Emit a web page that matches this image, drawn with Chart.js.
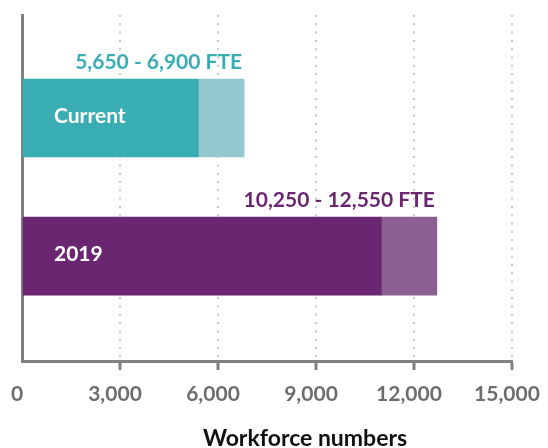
<!DOCTYPE html>
<html>
<head>
<meta charset="utf-8">
<script src="https://cdn.jsdelivr.net/npm/chart.js@4"></script>
<style>
  body { margin: 0; background: #fff; }
  #wrap { position: relative; width: 548px; height: 448px; }
  #xTitle {
    position: absolute; left: 0; width: 610px; top: 423px;
    text-align: center; font-family: Lato, sans-serif; font-weight: 700;
    font-size: 23px; color: #111;
  }
</style>
</head>
<body>
<div id="wrap">
  <canvas id="grafico"></canvas>
  <div id="xTitle">Workforce numbers</div>
</div>
<script>
// dados
const categorias = ['Current', '2019'];
const faixaTexto = ['5,650 - 6,900 FTE', '10,250 - 12,550 FTE'];
const valorBase = [5400, 11000];   // parte escura
const valorTopo = [6800, 12700];   // fim da parte clara
const coresBase = ['#38adb4', '#6b2671'];
const coresTopo = ['#93cacf', '#8b5f91'];
const ticksX = [0, 3000, 6000, 9000, 12000, 15000];

const fonte = 'Lato, sans-serif';

// rotulos nas barras
const rotulosPlugin = {
    id: 'rotulos',
    afterDatasetsDraw(chart) {
        const ctx = chart.ctx;
        const metaTopo = chart.getDatasetMeta(1);
        ctx.save();
        ctx.font = 'bold 21px ' + fonte;
        ctx.textBaseline = 'middle';
        metaTopo.data.forEach((bar, i) => {
            const topo = bar.y - bar.height / 2;
            ctx.fillStyle = coresBase[i];
            ctx.textAlign = 'right';
            ctx.fillText(faixaTexto[i], bar.x - 2, topo - 17);
            ctx.fillStyle = '#fff';
            ctx.textAlign = 'left';
            ctx.fillText(categorias[i], chart.chartArea.left + 32, bar.y - 2);
        });
        ctx.restore();
    }
};

const ctx1 = document.getElementById('grafico').getContext('2d');
new Chart(ctx1, {
    type: 'bar',
    data: {
        datasets: [
            {
                label: 'base',
                data: categorias.map((c, i) => ({ x: [0, valorBase[i]], y: i + 1 })),
                backgroundColor: coresBase
            },
            {
                label: 'faixa',
                data: categorias.map((c, i) => ({ x: [valorBase[i], valorTopo[i]], y: i + 1 })),
                backgroundColor: coresTopo
            }
        ]
    },
    options: {
        indexAxis: 'y',
        responsive: true,
        maintainAspectRatio: false,
        animation: false,
        grouped: false,
        barThickness: 78,
        layout: { padding: { left: 0, right: 36, top: 15, bottom: 0 } },
        plugins: {
            legend: { display: false },
            tooltip: { enabled: false }
        },
        scales: {
            x: {
                type: 'linear',
                min: 0,
                max: 15000,
                afterBuildTicks: scale => {
                    scale.ticks = ticksX.map(v => ({ value: v }));
                },
                afterFit: scale => {
                    scale.height = 87;
                    scale.paddingLeft = 0;
                    scale.paddingRight = 0;
                },
                border: { color: '#808080', width: 3, dash: [2, 6.3] },
                grid: {
                    color: c => c.tick && c.tick.value === 0 ? 'rgba(0,0,0,0)' : '#c8c8c8',
                    lineWidth: 2,
                    tickLength: 9,
                    tickColor: c => c.tick && c.tick.value === 0 ? 'rgba(0,0,0,0)' : '#808080',
                    tickWidth: 3,
                    tickBorderDash: []
                },
                ticks: {
                    color: '#6d6d6d',
                    font: { family: fonte, size: 21, weight: 'bold' },
                    padding: 12,
                    labelOffset: -5,
                    maxRotation: 0,
                    callback: value => value.toLocaleString('en-US')
                }
            },
            y: {
                type: 'linear',
                reverse: true,
                offset: false,
                min: 0.254,
                max: 2.76,
                afterDataLimits: scale => { scale.min = 0.254; scale.max = 2.76; },
                afterFit: scale => { scale.width = 22; },
                border: { color: '#808080', width: 3 },
                grid: { display: false, offset: false },
                ticks: { display: false }
            }
        }
    },
    plugins: [rotulosPlugin]
});
</script>
</body>
</html>
